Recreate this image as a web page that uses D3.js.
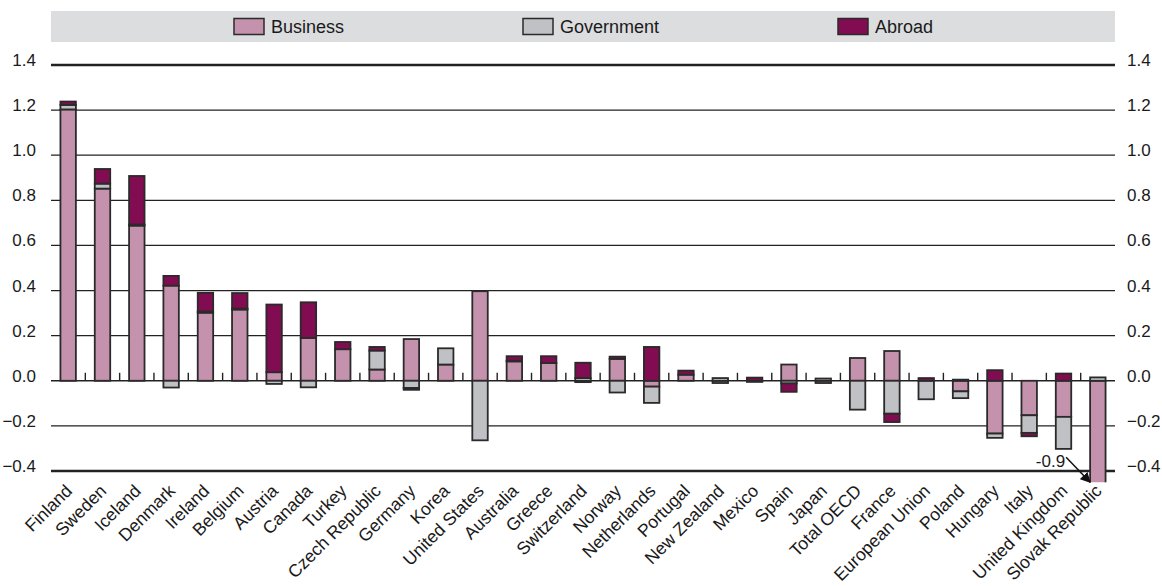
<!DOCTYPE html>
<html>
<head>
<meta charset="utf-8">
<script src="https://cdn.jsdelivr.net/npm/d3@7"></script>
<style>
  body { margin: 0; background: #fff; }
  text { font-family: "Liberation Sans", Arial, sans-serif; fill: #1a1a1a; }
</style>
</head>
<body>
<div id="chart"></div>
<script>
// values
const countries = ["Finland", "Sweden", "Iceland", "Denmark", "Ireland", "Belgium", "Austria", "Canada",
  "Turkey", "Czech Republic", "Germany", "Korea", "United States", "Australia", "Greece", "Switzerland",
  "Norway", "Netherlands", "Portugal", "New Zealand", "Mexico", "Spain", "Japan", "Total OECD", "France",
  "European Union", "Poland", "Hungary", "Italy", "United Kingdom", "Slovak Republic"];
const business = [1.203, 0.852, 0.688, 0.422, 0.302, 0.316, 0.038, 0.19, 0.14, 0.05, 0.185, 0.072, 0.397,
  0.086, 0.079, -0.006, 0.097, -0.026, 0.027, -0.01, -0.005, 0.072, -0.01, 0.101, 0.132, 0, -0.047,
  -0.234, -0.153, -0.16, -0.9];
const government = [0.02, 0.022, 0.005, -0.03, 0.005, 0.004, -0.014, -0.029, 0, 0.084, -0.032, 0.072,
  -0.264, 0.003, 0, 0.012, -0.052, -0.072, 0, 0.012, 0, -0.012, 0.01, -0.128, -0.146, -0.082, -0.03,
  -0.019, -0.078, -0.142, 0.015];
const abroad = [0.015, 0.065, 0.215, 0.043, 0.083, 0.069, 0.30, 0.158, 0.032, 0.016, -0.008, 0, 0, 0.02,
  0.03, 0.068, 0.01, 0.15, 0.018, 0, 0.014, -0.037, 0, 0, -0.037, 0.012, 0.005, 0.047, -0.015, 0.032, 0];
const seriesNames = ["Business", "Government", "Abroad"];
const yTicks = [-0.4, -0.2, 0.0, 0.2, 0.4, 0.6, 0.8, 1.0, 1.2, 1.4];
const cutNote = { country: "Slovak Republic", label: "-0.9" };

const W = 1162, H = 586;
const plot = { left: 51, right: 1115, top: 65, bottom: 471 };
const colors = { Business: "#c592ad", Government: "#c0c1c4", Abroad: "#820c52" };

const svg = d3.select("#chart").append("svg")
  .attr("width", W).attr("height", H);

const x = d3.scaleBand().domain(countries).range([plot.left, plot.right])
  .paddingInner(0.55).paddingOuter(0.275);
const y = d3.scaleLinear().domain([-0.4, 1.4]).range([plot.bottom, plot.top]);

// legend band
svg.append("rect").attr("x", plot.left).attr("y", 11).attr("width", plot.right - plot.left).attr("height", 31)
  .attr("fill", "#dcdddf");
const legendX = [234, 523, 838];
seriesNames.forEach((s, i) => {
  svg.append("rect").attr("x", legendX[i]).attr("y", 18.5).attr("width", 30).attr("height", 16)
    .attr("fill", colors[s]).attr("stroke", "#2a2a2a").attr("stroke-width", 1.5);
  svg.append("text").attr("x", legendX[i] + 37).attr("y", 33).attr("font-size", 18).text(s);
});

// grid lines
svg.append("g").selectAll("line").data(yTicks).join("line")
  .attr("x1", plot.left).attr("x2", plot.right)
  .attr("y1", d => y(d)).attr("y2", d => y(d))
  .attr("stroke", "#222")
  .attr("stroke-width", d => (d === 1.4 || d === -0.4) ? 2.6 : (d === 0 ? 1.6 : 1.2));

// tick labels both sides
const fmt = d3.format(".1f");
svg.append("g").selectAll("text").data(yTicks).join("text")
  .attr("x", 36).attr("y", d => y(d) + 1).attr("text-anchor", "end")
  .attr("font-size", 17).text(d => fmt(d));
svg.append("g").selectAll("text").data(yTicks).join("text")
  .attr("x", 1127).attr("y", d => y(d) + 1).attr("text-anchor", "start")
  .attr("font-size", 17).text(d => fmt(d));

// stacked bars
const table = countries.map((c, i) => ({
  country: c, Business: business[i], Government: government[i], Abroad: abroad[i]
}));
const stacked = d3.stack().keys(seriesNames).offset(d3.stackOffsetDiverging)(table);

svg.append("clipPath").attr("id", "plotClip").append("rect")
  .attr("x", plot.left).attr("y", 0).attr("width", plot.right - plot.left).attr("height", y(-0.45));

const barsG = svg.append("g").attr("clip-path", "url(#plotClip)");
stacked.forEach(layer => {
  barsG.append("g").selectAll("rect")
    .data(layer.filter(d => d[0] !== d[1]))
    .join("rect")
    .attr("x", d => x(d.data.country))
    .attr("width", x.bandwidth())
    .attr("y", d => y(Math.max(d[0], d[1])))
    .attr("height", d => Math.abs(y(d[0]) - y(d[1])))
    .attr("fill", colors[layer.key])
    .attr("stroke", "#2a2a2a")
    .attr("stroke-width", 1.8);
});

// small ticks on the zero line between categories
const gap = x.step() - x.bandwidth();
svg.append("g").selectAll("line").data(countries.slice(1)).join("line")
  .attr("x1", d => x(d) - gap / 2)
  .attr("x2", d => x(d) - gap / 2)
  .attr("y1", y(0) - 8).attr("y2", y(0))
  .attr("stroke", "#222").attr("stroke-width", 1.4);

// category labels
svg.append("g").selectAll("text").data(countries).join("text")
  .attr("transform", d => `translate(${x(d) + x.bandwidth() / 2 + 5},${plot.bottom + 21}) rotate(-45)`)
  .attr("text-anchor", "end").attr("font-size", 17.6).text(d => d);

// annotation for the truncated bar
svg.append("defs").append("marker").attr("id", "arrow")
  .attr("viewBox", "0 0 10 10").attr("refX", 9).attr("refY", 5)
  .attr("markerWidth", 7).attr("markerHeight", 7).attr("orient", "auto")
  .append("path").attr("d", "M0,0 L10,5 L0,10 z").attr("fill", "#111");
const nx = x(cutNote.country), ny = y(-0.45);
svg.append("line").attr("x1", nx - 24).attr("y1", ny - 25).attr("x2", nx).attr("y2", ny)
  .attr("stroke", "#111").attr("stroke-width", 1.5).attr("marker-end", "url(#arrow)");
svg.append("text").attr("x", nx - 25).attr("y", ny - 15).attr("text-anchor", "end")
  .attr("font-size", 17).text(cutNote.label);
</script>
</body>
</html>
